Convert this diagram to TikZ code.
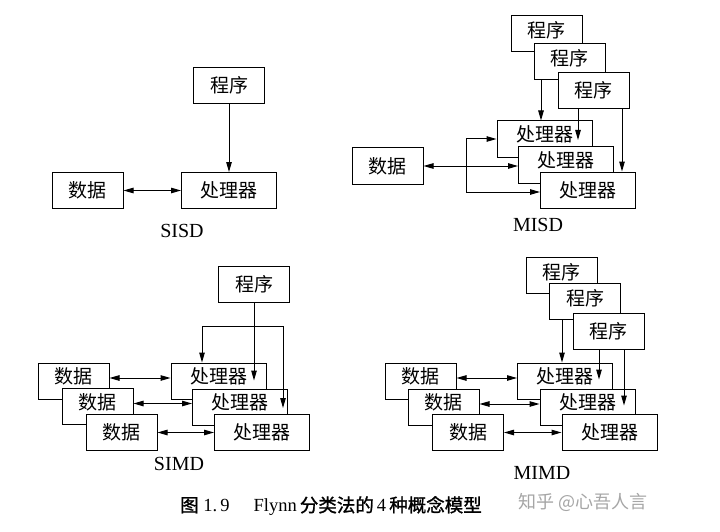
\documentclass[tikz,border=0pt]{standalone}
\usepackage{fontspec}
\setmainfont{Liberation Serif}
\newfontfamily\cjk{Noto Sans CJK SC}
\newfontfamily\cjkb[FakeBold=1.2]{Noto Sans CJK SC}
\usetikzlibrary{arrows.meta}
\begin{document}
\begin{tikzpicture}[x=1pt,y=-1pt,
  box/.style={draw, fill=white, line width=1pt, minimum width=71pt, minimum height=36pt, inner sep=0pt, text height=16.5pt, text depth=2.5pt, font=\cjk\fontsize{19}{19}\selectfont},
  pbox/.style={box, minimum width=95pt},
  up/.style={text depth=11.5pt},
  upp/.style={text depth=8.5pt},
  arr/.style={line width=1pt, -{Triangle[length=10pt,width=5.5pt]}},
  darr/.style={line width=1pt, {Triangle[length=10pt,width=5.5pt]}-{Triangle[length=10pt,width=5.5pt]}},
  lab/.style={font=\fontsize{20}{20}\selectfont}]
\useasboundingbox[fill=white] (0,0) rectangle (720,532);

% ---------- SISD ----------
\node[box] (aprog) at (229,85.5) {程序};
\node[pbox] (aproc) at (229,190.5) {处理器};
\node[box] (adata) at (87.5,190.5) {数据};
\draw[arr] (aprog) -- (aproc);
\draw[darr] (adata) -- (aproc);
\node[lab] (alab) at (182,231) {SISD};

% ---------- MISD ----------
\node[box, upp] (bprog1) at (546.5,34) {程序};
\node[box, upp] (bprog2) at (569.5,61.5) {程序};
\node[box] (bprog3) at (593.5,90.5) {程序};
\node[pbox, up] (bproc1) at (544.5,139) {处理器};
\node[pbox, up] (bproc2) at (566,165) {处理器};
\node[pbox] (bproc3) at (588,190) {处理器};
\node[box] (bdata) at (387.5,166) {数据};
\draw[arr] ([xshift=-28.5pt]bprog2.south) -- ([xshift=-28.5pt]bprog2.south |- bproc1.north);
\draw[arr] ([xshift=-15.5pt]bprog3.south) -- ++(0,31);
\draw[arr] ([xshift=28.5pt]bprog3.south) -- ([xshift=28.5pt]bprog3.south |- bproc3.north);
\draw[darr] (bdata.east) -- (bdata.east -| bproc2.west);
\coordinate (bj) at (466,166);
\draw[arr] (bj) |- (bproc1.west);
\draw[arr] (bj) |- ([yshift=-2pt]bproc3.west);
\node[lab] (blab) at (538,225) {MISD};

% ---------- SIMD ----------
\node[box] (cprog) at (254,284) {程序};
\node[pbox, up] (cproc1) at (218.5,381) {处理器};
\node[pbox, up] (cproc2) at (240,407) {处理器};
\node[pbox] (cproc3) at (262,432) {处理器};
\node[box, up] (cdata1) at (73.5,381) {数据};
\node[box, up] (cdata2) at (97.5,406.5) {数据};
\node[box] (cdata3) at (121.5,432.5) {数据};
\draw[arr] (cprog.south) -- ++(0,78);
\coordinate (cj) at (254,326);
\draw[arr] (cj) -| ([xshift=-16.5pt]cproc1.north);
\draw[arr] (cj) -| (283,408);
\draw[darr] ([yshift=3pt]cdata1.east) -- ([yshift=3pt]cdata1.east -| cproc1.west);
\draw[darr] ([yshift=3pt]cdata2.east) -- ([yshift=3pt]cdata2.east -| cproc2.west);
\draw[darr] (cdata3.east) -- (cdata3.east -| cproc3.west);
\node[lab] (clab) at (179,464) {SIMD};

% ---------- MIMD ----------
\node[box, upp] (dprog1) at (561.5,275) {程序};
\node[box, upp] (dprog2) at (585,301.5) {程序};
\node[box] (dprog3) at (608.5,331) {程序};
\node[pbox, up] (dproc1) at (565,381) {处理器};
\node[pbox, up] (dproc2) at (587.5,407) {处理器};
\node[pbox] (dproc3) at (609.5,432.5) {处理器};
\node[box, up] (ddata1) at (420.5,381) {数据};
\node[box, up] (ddata2) at (443.5,407) {数据};
\node[box] (ddata3) at (468,432.5) {数据};
\draw[arr] ([xshift=-23pt]dprog2.south) -- ([xshift=-23pt]dprog2.south |- dproc1.north);
\draw[arr] ([xshift=-9.5pt]dprog3.south) -- ++(0,30);
\draw[arr] ([xshift=15.5pt]dprog3.south) -- ++(0,56);
\draw[darr] ([yshift=3pt]ddata1.east) -- ([yshift=3pt]ddata1.east -| dproc1.west);
\draw[darr] ([yshift=3pt]ddata2.east) -- ([yshift=3pt]ddata2.east -| dproc2.west);
\draw[darr] (ddata3.east) -- (ddata3.east -| dproc3.west);
\node[lab] (dlab) at (542,473) {MIMD};

% ---------- caption ----------
\node[font=\fontsize{18.5}{18.5}\selectfont] (cap) at (331,506) {{\cjkb 图} 1.\,9\hspace{1.3em}Flynn\,{\cjkb 分类法的}\,4\,{\cjkb 种概念模型}};
\node[font=\cjk\fontsize{18}{18}\selectfont, text=black!35] (wm) at (583,502) {知乎 @心吾人言};
\end{tikzpicture}
\end{document}
